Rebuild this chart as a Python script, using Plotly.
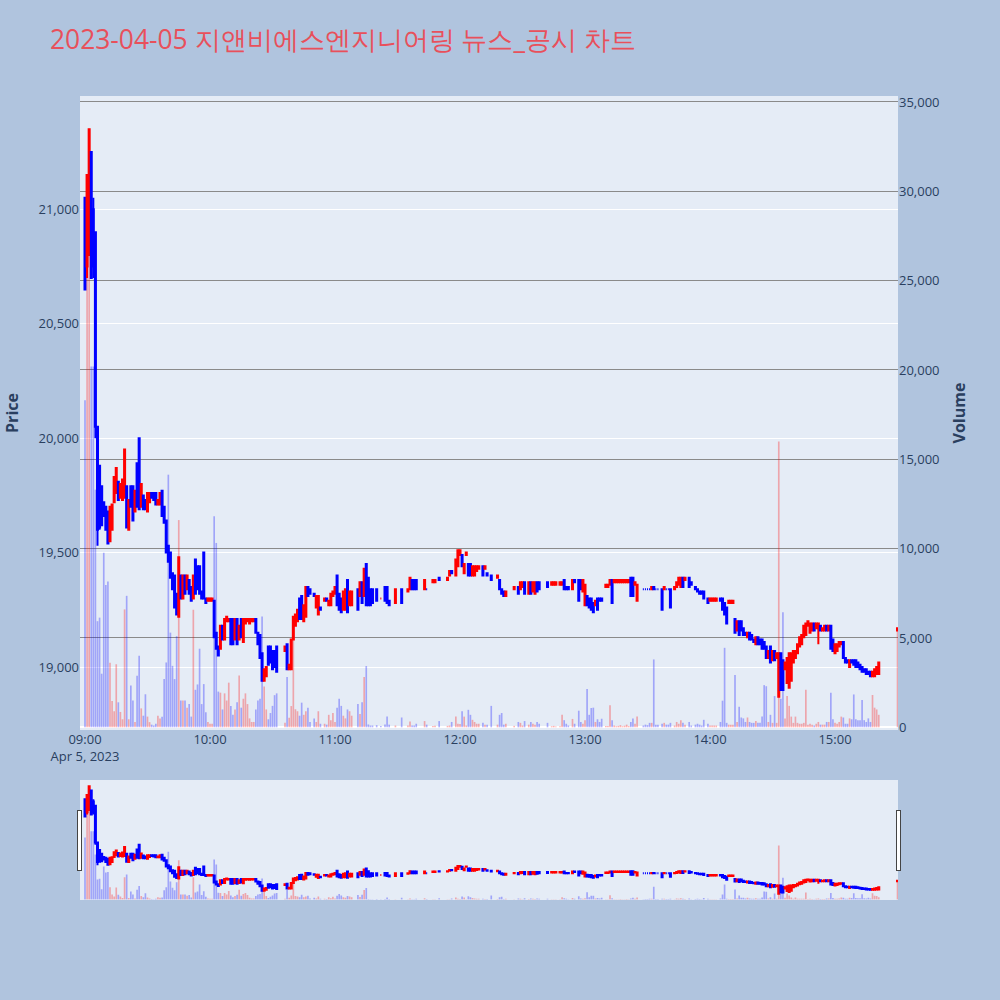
import pandas as pd
import plotly.graph_objects as go
from plotly.subplots import make_subplots

# minute offsets from 09:00 (10 per line)
minutes = [0, 1, 2, 3, 4, 5, 6, 7, 8, 9,
           10, 11, 12, 13, 14, 15, 16, 17, 18, 19,
           20, 21, 22, 23, 24, 25, 26, 27, 28, 29,
           30, 31, 32, 33, 34, 35, 36, 37, 38, 39,
           40, 41, 42, 43, 44, 45, 46, 47, 48, 49,
           50, 51, 52, 53, 54, 55, 56, 57, 58, 59,
           60, 61, 62, 63, 64, 65, 66, 67, 68, 69,
           70, 71, 72, 73, 74, 75, 76, 77, 78, 79,
           80, 81, 82, 83, 84, 85, 86, 87, 88, 89,
           90, 91, 92, 96, 97, 98, 99, 100, 101, 102,
           103, 104, 105, 106, 107, 108, 110, 111, 112, 113,
           115, 116, 117, 118, 119, 120, 121, 122, 123, 124,
           125, 126, 127, 128, 131, 132, 133, 134, 135, 136,
           137, 138, 140, 142, 144, 145, 146, 149, 152, 155,
           156, 157, 158, 159, 163, 164, 167, 168, 170, 174,
           175, 176, 178, 179, 180, 181, 182, 183, 184, 185,
           186, 187, 188, 189, 191, 192, 193, 195, 198, 199,
           200, 201, 202, 206, 208, 209, 210, 211, 213, 214,
           215, 216, 217, 218, 222, 224, 225, 226, 228, 229,
           230, 231, 232, 234, 235, 237, 238, 239, 240, 241,
           242, 243, 244, 245, 246, 247, 248, 250, 251, 252,
           253, 254, 255, 256, 257, 258, 259, 260, 261, 262,
           263, 264, 265, 268, 269, 270, 271, 272, 273, 274,
           275, 277, 278, 279, 280, 281, 283, 284, 285, 286,
           287, 288, 290, 291, 293, 294, 295, 296, 297, 299,
           300, 301, 302, 303, 305, 306, 307, 308, 309, 310,
           311, 312, 313, 314, 315, 316, 317, 318, 319, 320,
           321, 322, 323, 324, 325, 326, 327, 328, 329, 330,
           331, 332, 333, 334, 335, 336, 337, 338, 339, 340,
           341, 342, 343, 344, 345, 346, 347, 348, 349, 350,
           351, 352, 353, 354, 355, 356, 357, 358, 359, 360,
           361, 362, 363, 364, 365, 366, 367, 368, 369, 370,
           371, 372, 373, 374, 375, 376, 377, 378, 379, 380,
           381, 390]

opens = [21050, 20750, 20800, 21250, 21000, 20900, 20050, 19880, 19790, 19720,
         19700, 19680, 19550, 19600, 19720, 19760, 19810, 19740, 19730, 19740,
         19790, 19600, 19790, 19790, 19680, 19890, 20000, 19700, 19750, 19730,
         19680, 19720, 19760, 19760, 19760, 19710, 19710, 19770, 19700, 19640,
         19530, 19500, 19410, 19400, 19320, 19220, 19400, 19300, 19400, 19340,
         19380, 19350, 19300, 19470, 19440, 19440, 19330, 19500, 19300, 19290,
         19290, 19290, 19290, 19150, 19090, 19080, 19180, 19120, 19200, 19200,
         19210, 19210, 19120, 19210, 19120, 19210, 19110, 19190, 19200, 19190,
         19200, 19200, 19210, 19150, 19140, 19060, 18940, 18960, 19090, 19090,
         19070, 19070, 19090, 19070, 19100, 18990, 18990, 19120, 19180, 19200,
         19300, 19310, 19200, 19220, 19350, 19340, 19320, 19260, 19230, 19260,
         19290, 19300, 19270, 19270, 19310, 19320, 19400, 19320, 19300, 19250,
         19250, 19380, 19270, 19270, 19340, 19310, 19370, 19310, 19450, 19390,
         19340, 19340, 19340, 19300, 19350, 19350, 19290, 19280, 19340, 19330,
         19340, 19380, 19380, 19380, 19340, 19340, 19370, 19370, 19390, 19380,
         19400, 19420, 19400, 19440, 19490, 19490, 19410, 19490, 19450, 19450,
         19400, 19400, 19420, 19430, 19440, 19430, 19410, 19400, 19390, 19380,
         19340, 19330, 19310, 19340, 19350, 19340, 19350, 19370, 19320, 19370,
         19330, 19320, 19370, 19370, 19370, 19360, 19360, 19360, 19360, 19360,
         19380, 19350, 19350, 19340, 19380, 19380, 19380, 19330, 19270, 19310,
         19300, 19300, 19280, 19270, 19300, 19300, 19300, 19350, 19350, 19360,
         19380, 19370, 19370, 19370, 19370, 19370, 19370, 19370, 19370, 19390,
         19390, 19360, 19290, 19340, 19340, 19340, 19340, 19340, 19350, 19340,
         19340, 19340, 19340, 19340, 19340, 19340, 19340, 19350, 19360, 19350,
         19390, 19380, 19390, 19370, 19350, 19340, 19330, 19330, 19330, 19300,
         19290, 19290, 19290, 19290, 19300, 19300, 19280, 19260, 19280, 19280,
         19280, 19210, 19160, 19200, 19200, 19170, 19150, 19130, 19150, 19140,
         19120, 19100, 19130, 19120, 19120, 19110, 19090, 19040, 19090, 19030,
         19070, 19040, 18870, 19060, 19030, 18990, 18930, 18910, 18940, 19020,
         19040, 19060, 19090, 19100, 19130, 19140, 19180, 19150, 19160, 19190,
         19170, 19170, 19180, 19160, 19160, 19180, 19160, 19180, 19120, 19060,
         19070, 19090, 19100, 19110, 19040, 19030, 19000, 19030, 19030, 19030,
         19020, 19010, 19000, 18990, 18990, 18980, 18980, 18960, 18960, 18970,
         18970, 19160]

highs = [21050, 21150, 21350, 21250, 21050, 20900, 20050, 19880, 19790, 19720,
         19700, 19680, 19700, 19710, 19830, 19870, 19810, 19800, 19820, 19950,
         19790, 19730, 19790, 19790, 19770, 19890, 20000, 19800, 19750, 19730,
         19760, 19760, 19760, 19760, 19760, 19730, 19760, 19770, 19700, 19640,
         19530, 19500, 19410, 19400, 19320, 19480, 19400, 19400, 19400, 19400,
         19380, 19350, 19400, 19470, 19440, 19440, 19330, 19500, 19300, 19300,
         19300, 19300, 19290, 19150, 19090, 19180, 19180, 19210, 19220, 19210,
         19210, 19210, 19210, 19210, 19180, 19210, 19210, 19210, 19210, 19210,
         19210, 19210, 19210, 19150, 19140, 19060, 18990, 19000, 19090, 19090,
         19070, 19070, 19090, 19090, 19100, 19010, 19120, 19220, 19230, 19250,
         19300, 19310, 19270, 19350, 19350, 19340, 19320, 19310, 19310, 19260,
         19300, 19300, 19290, 19320, 19330, 19350, 19400, 19320, 19300, 19330,
         19340, 19380, 19330, 19330, 19340, 19370, 19370, 19430, 19450, 19390,
         19340, 19340, 19340, 19300, 19350, 19350, 19290, 19340, 19340, 19340,
         19390, 19380, 19380, 19380, 19380, 19340, 19380, 19380, 19390, 19390,
         19420, 19420, 19470, 19510, 19510, 19490, 19450, 19500, 19450, 19450,
         19440, 19440, 19440, 19440, 19440, 19440, 19410, 19400, 19400, 19380,
         19340, 19330, 19330, 19350, 19350, 19370, 19370, 19370, 19370, 19370,
         19370, 19370, 19370, 19370, 19370, 19370, 19370, 19370, 19370, 19370,
         19380, 19350, 19350, 19380, 19380, 19380, 19380, 19380, 19360, 19310,
         19300, 19300, 19280, 19290, 19300, 19300, 19300, 19360, 19360, 19380,
         19380, 19380, 19380, 19380, 19380, 19380, 19380, 19380, 19380, 19390,
         19390, 19370, 19360, 19340, 19340, 19340, 19340, 19350, 19350, 19340,
         19340, 19340, 19350, 19340, 19340, 19340, 19350, 19370, 19390, 19390,
         19390, 19390, 19390, 19370, 19350, 19340, 19330, 19330, 19330, 19300,
         19300, 19300, 19300, 19300, 19300, 19300, 19280, 19260, 19290, 19290,
         19290, 19210, 19200, 19200, 19200, 19170, 19150, 19150, 19150, 19140,
         19120, 19130, 19130, 19120, 19120, 19110, 19090, 19070, 19090, 19070,
         19070, 19060, 19060, 19060, 19030, 19020, 19040, 19060, 19060, 19070,
         19070, 19100, 19130, 19140, 19180, 19190, 19200, 19190, 19190, 19190,
         19190, 19190, 19180, 19170, 19180, 19180, 19180, 19180, 19120, 19100,
         19100, 19110, 19110, 19110, 19040, 19030, 19030, 19030, 19030, 19030,
         19020, 19010, 19000, 18990, 18990, 18980, 18980, 18980, 18990, 19000,
         19020, 19170]

lows = [20650, 20700, 20800, 20700, 20700, 20000, 19530, 19600, 19620, 19660,
        19600, 19540, 19550, 19600, 19720, 19760, 19730, 19740, 19730, 19740,
        19610, 19600, 19700, 19640, 19680, 19700, 19690, 19700, 19690, 19690,
        19680, 19720, 19740, 19730, 19710, 19710, 19710, 19660, 19630, 19500,
        19460, 19390, 19340, 19260, 19230, 19220, 19300, 19300, 19320, 19340,
        19320, 19290, 19300, 19320, 19340, 19320, 19300, 19300, 19280, 19290,
        19290, 19290, 19130, 19080, 19050, 19080, 19120, 19120, 19200, 19200,
        19100, 19100, 19120, 19100, 19120, 19130, 19110, 19190, 19200, 19190,
        19200, 19200, 19150, 19100, 19040, 18940, 18940, 18960, 19010, 19020,
        18990, 19000, 18980, 19070, 18990, 18990, 18990, 19120, 19180, 19200,
        19210, 19210, 19200, 19220, 19310, 19320, 19310, 19260, 19230, 19250,
        19290, 19290, 19270, 19270, 19310, 19320, 19270, 19250, 19240, 19250,
        19250, 19240, 19270, 19270, 19250, 19310, 19280, 19310, 19270, 19270,
        19270, 19280, 19290, 19300, 19290, 19280, 19270, 19280, 19280, 19330,
        19340, 19340, 19340, 19340, 19340, 19340, 19370, 19370, 19380, 19380,
        19400, 19410, 19400, 19440, 19490, 19440, 19410, 19490, 19400, 19400,
        19400, 19400, 19420, 19430, 19400, 19430, 19400, 19380, 19390, 19340,
        19320, 19310, 19310, 19340, 19320, 19340, 19350, 19320, 19320, 19320,
        19330, 19320, 19330, 19340, 19350, 19360, 19360, 19360, 19360, 19360,
        19340, 19340, 19340, 19340, 19370, 19290, 19340, 19330, 19270, 19270,
        19260, 19250, 19240, 19270, 19250, 19290, 19290, 19350, 19350, 19360,
        19280, 19370, 19370, 19370, 19370, 19370, 19370, 19370, 19370, 19310,
        19310, 19360, 19290, 19340, 19340, 19340, 19340, 19340, 19340, 19340,
        19340, 19250, 19340, 19340, 19340, 19260, 19340, 19350, 19360, 19350,
        19350, 19380, 19350, 19360, 19340, 19330, 19320, 19320, 19300, 19280,
        19290, 19290, 19290, 19290, 19290, 19250, 19230, 19190, 19280, 19280,
        19280, 19150, 19160, 19140, 19160, 19140, 19140, 19130, 19120, 19120,
        19110, 19100, 19100, 19100, 19080, 19080, 19040, 19040, 19020, 19030,
        19030, 19040, 18870, 18900, 18900, 18990, 18930, 18910, 18940, 19020,
        19040, 19060, 19090, 19100, 19130, 19140, 19180, 19150, 19160, 19160,
        19170, 19100, 19160, 19160, 19160, 19160, 19160, 19080, 19070, 19060,
        19070, 19090, 19100, 19040, 19020, 19020, 19000, 19020, 19010, 19000,
        19000, 18990, 18980, 18980, 18970, 18970, 18960, 18960, 18960, 18970,
        18970, 19160]

closes = [20650, 21150, 21350, 20700, 20750, 20050, 19600, 19610, 19620, 19660,
          19600, 19540, 19700, 19710, 19830, 19870, 19730, 19800, 19820, 19950,
          19610, 19730, 19700, 19640, 19770, 19700, 19690, 19800, 19690, 19690,
          19760, 19760, 19740, 19730, 19710, 19730, 19760, 19660, 19630, 19500,
          19460, 19390, 19340, 19260, 19230, 19480, 19300, 19400, 19320, 19400,
          19320, 19290, 19400, 19320, 19340, 19320, 19300, 19300, 19280, 19300,
          19300, 19300, 19130, 19080, 19050, 19180, 19120, 19210, 19220, 19210,
          19100, 19100, 19210, 19100, 19180, 19130, 19210, 19210, 19210, 19210,
          19210, 19210, 19150, 19100, 19040, 18940, 18990, 19000, 19010, 19020,
          18990, 19000, 18980, 19090, 18990, 19010, 19120, 19220, 19230, 19250,
          19210, 19210, 19270, 19350, 19310, 19320, 19310, 19310, 19310, 19250,
          19300, 19290, 19290, 19320, 19330, 19350, 19270, 19250, 19240, 19330,
          19340, 19240, 19330, 19330, 19250, 19370, 19280, 19430, 19270, 19270,
          19270, 19280, 19290, 19300, 19290, 19280, 19270, 19340, 19280, 19340,
          19390, 19340, 19340, 19340, 19380, 19340, 19380, 19380, 19380, 19390,
          19420, 19410, 19470, 19510, 19510, 19440, 19450, 19500, 19400, 19400,
          19440, 19440, 19440, 19440, 19400, 19440, 19400, 19380, 19400, 19340,
          19320, 19310, 19330, 19350, 19320, 19370, 19370, 19320, 19370, 19320,
          19370, 19370, 19330, 19340, 19350, 19370, 19370, 19370, 19370, 19370,
          19340, 19340, 19340, 19380, 19370, 19290, 19340, 19380, 19360, 19270,
          19260, 19250, 19240, 19290, 19250, 19290, 19290, 19360, 19360, 19380,
          19280, 19380, 19380, 19380, 19380, 19380, 19380, 19380, 19380, 19310,
          19310, 19370, 19360, 19340, 19340, 19340, 19340, 19350, 19340, 19340,
          19340, 19250, 19350, 19340, 19340, 19260, 19350, 19370, 19390, 19390,
          19350, 19390, 19350, 19360, 19340, 19330, 19320, 19320, 19300, 19280,
          19300, 19300, 19300, 19300, 19290, 19250, 19230, 19190, 19290, 19290,
          19290, 19150, 19200, 19140, 19160, 19140, 19140, 19150, 19120, 19120,
          19110, 19130, 19100, 19100, 19080, 19080, 19040, 19070, 19020, 19070,
          19030, 19060, 19060, 18900, 18900, 19020, 19040, 19060, 19060, 19070,
          19070, 19100, 19130, 19140, 19180, 19190, 19200, 19190, 19190, 19160,
          19190, 19190, 19160, 19170, 19180, 19160, 19180, 19080, 19070, 19100,
          19100, 19110, 19110, 19040, 19020, 19020, 19030, 19020, 19010, 19000,
          19000, 18990, 18980, 18980, 18970, 18970, 18960, 18980, 18990, 19000,
          19020, 19170]

volumes = [18300, 26900, 33500, 20200, 20200, 13300, 5940, 6140, 3000, 9770,
           7970, 8160, 3620, 1470, 900, 3530, 1400, 860, 450, 6600,
           7360, 450, 2340, 1500, 300, 2890, 4010, 1060, 650, 1850,
           600, 290, 150, 100, 200, 650, 500, 590, 2700, 3630,
           14140, 5300, 3440, 2700, 5100, 11600, 1500, 1500, 1500, 1100,
           1300, 600, 6580, 2100, 2400, 4400, 1300, 2420, 840, 300,
           200, 200, 11810, 10320, 2000, 1940, 1000, 1900, 1500, 2500,
           1200, 700, 1000, 1400, 2900, 1100, 1600, 1900, 1300, 500,
           300, 300, 1000, 1500, 1600, 6200, 2290, 1000, 450, 800,
           1200, 1800, 1900, 250, 2810, 530, 1190, 4920, 1010, 900,
           650, 1380, 700, 900, 1100, 300, 500, 300, 900, 200,
           200, 150, 700, 400, 800, 300, 1100, 1600, 1200, 650,
           500, 1000, 900, 650, 1300, 750, 1400, 2810, 3430, 160,
           100, 100, 120, 80, 160, 600, 150, 100, 550, 100,
           330, 100, 100, 200, 350, 150, 80, 90, 350, 80,
           100, 300, 600, 200, 180, 900, 600, 100, 980, 700,
           420, 300, 200, 200, 250, 150, 150, 1200, 150, 700,
           800, 150, 200, 80, 300, 250, 100, 350, 150, 300,
           200, 150, 300, 200, 250, 60, 80, 50, 60, 700,
           400, 200, 100, 470, 200, 930, 300, 200, 400, 2140,
           700, 1080, 1100, 300, 450, 300, 480, 80, 80, 1230,
           400, 100, 60, 80, 120, 60, 90, 150, 70, 300,
           500, 200, 600, 100, 150, 120, 250, 250, 3800, 150,
           150, 200, 250, 150, 150, 250, 100, 300, 200, 400,
           250, 150, 300, 100, 150, 200, 150, 100, 420, 200,
           100, 100, 100, 100, 300, 1490, 4450, 250, 150, 150,
           150, 2930, 300, 1150, 550, 500, 300, 550, 300, 250,
           250, 350, 250, 250, 600, 2360, 2300, 300, 700, 250,
           1750, 250, 16000, 1600, 6440, 500, 1750, 1200, 600, 250,
           600, 250, 200, 200, 250, 2100, 150, 200, 150, 100,
           200, 300, 150, 150, 150, 300, 300, 1940, 450, 250,
           200, 300, 600, 550, 200, 200, 500, 450, 1840, 450,
           400, 400, 1530, 400, 300, 500, 300, 1810, 1100, 1000,
           700, 5550]

assert len({len(minutes), len(opens), len(highs), len(lows), len(closes), len(volumes)}) == 1

times = pd.Timestamp("2023-04-05 09:00") + pd.to_timedelta(minutes, unit="min")
vol_colors = ["rgba(255,0,0,0.3)" if c > o else "rgba(0,0,255,0.3)" for o, c in zip(opens, closes)]

fig = make_subplots(specs=[[{"secondary_y": True}]])
fig.add_trace(go.Candlestick(
    x=times, open=opens, high=highs, low=lows, close=closes,
    increasing=dict(line=dict(color="red"), fillcolor="red"),
    decreasing=dict(line=dict(color="blue"), fillcolor="blue"),
    name="Price"), secondary_y=False)
fig.add_trace(go.Bar(x=times, y=volumes, marker=dict(color=vol_colors, line=dict(width=0)),
                     name="Volume"), secondary_y=True)

xr = ["2023-04-05 08:57:36", "2023-04-05 15:30:14"]
fig.update_layout(
    width=1000, height=1000,
    title=dict(text="2023-04-05 지앤비에스엔지니어링 뉴스_공시 차트", x=0.05, y=0.96, yanchor="middle",
               font=dict(size=26.4, color="#e8505b")),
    paper_bgcolor="#b0c4de", plot_bgcolor="#e5ecf6", showlegend=False,
    margin=dict(l=80, r=102, t=96, b=100),
    font=dict(size=13),
)
fig.update_xaxes(range=xr, showgrid=False, domain=[0, 1],
                 rangeslider=dict(visible=True, thickness=0.149, bgcolor="#e5ecf6", range=xr))
fig.update_yaxes(title_text="<b>Price</b>", range=[18725, 21495], tickformat=",",
                 gridcolor="white", automargin=False, secondary_y=False)
fig.update_yaxes(title_text="<b>Volume</b>", range=[-150, 35335], tickformat=",",
                 showgrid=True, gridcolor="#8a8a8a", automargin=False, secondary_y=True)

fig.write_html("out.html", config={"displayModeBar": False},
               post_script="document.body.style.margin='0';")
